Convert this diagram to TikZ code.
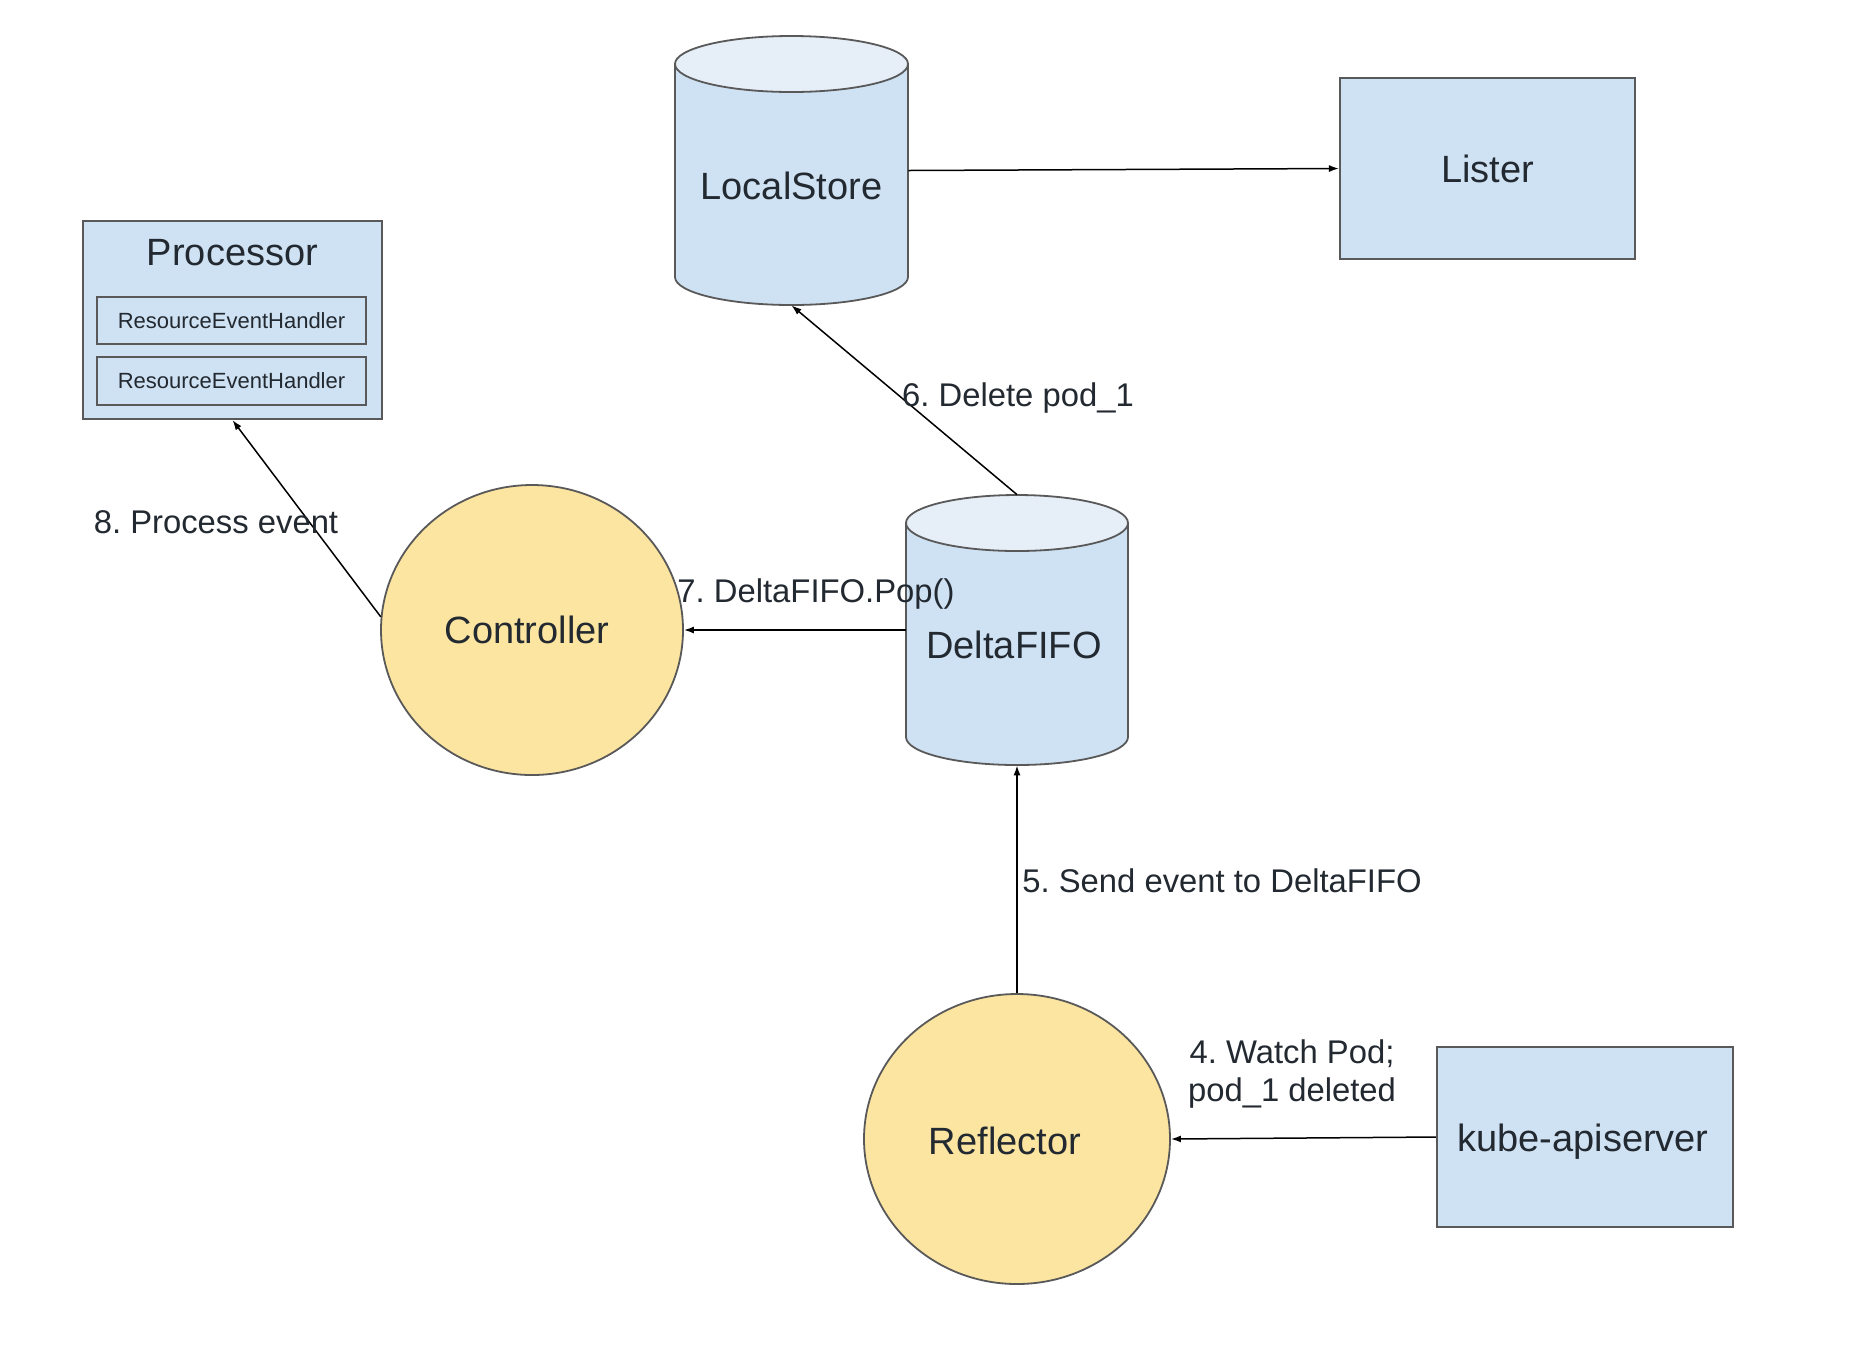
\documentclass[tikz,border=0pt]{standalone}
\usepackage{fontspec}
\setmainfont{Liberation Sans}
\usetikzlibrary{arrows.meta,shapes.geometric}
\frenchspacing

\definecolor{boxblue}{HTML}{CFE2F3}
\definecolor{capblue}{HTML}{E6EEF7}
\definecolor{discyellow}{HTML}{FCE5A1}
\definecolor{edgegray}{HTML}{595959}
\definecolor{inktext}{HTML}{232930}

\begin{document}
\begin{tikzpicture}[x=0.5pt,y=-0.5pt,
  every node/.style={text=inktext},
  mainfont/.style={font=\fontsize{19pt}{22pt}\selectfont},
  labelfont/.style={font=\fontsize{16.4pt}{19pt}\selectfont},
  smallfont/.style={font=\fontsize{11pt}{13pt}\selectfont},
  bluebox/.style={draw=edgegray, line width=1.1pt, fill=boxblue, inner sep=0pt},
  innerbox/.style={draw=edgegray, line width=1pt, fill=boxblue, inner sep=0pt,
    minimum width=134.5pt, minimum height=23.5pt, smallfont},
  disc/.style={ellipse, draw=edgegray, line width=0.9pt, fill=discyellow,
    minimum width=151pt, minimum height=145pt, inner sep=0pt},
  drumframe/.style={rectangle, inner sep=0pt, draw=none},
  drumbody/.style={draw=edgegray, line width=0.9pt, fill=boxblue},
  drumcap/.style={draw=edgegray, line width=0.9pt, fill=capblue},
  flow/.style={draw=black, line width=0.75pt, -{Latex[length=5pt,width=3.5pt]}},
  steplabel/.style={labelfont, inner sep=0pt, align=center}
]
\useasboundingbox (0,0) rectangle (1862,1362);
\fill[white] (0,0) rectangle (1862,1362);

% ---- LocalStore cylinder (x 675..908, y 36..305)
\node[drumframe, minimum width=116.5pt, minimum height=134.5pt] (localstore) at (791.5,170.5) {};
\path[drumbody] (675,64) -- (675,277)
  arc[start angle=180, end angle=360, x radius=58.25pt, y radius=14pt] -- (908,64) -- cycle;
\path[drumcap] (791.5,64) ellipse[x radius=58.25pt, y radius=14pt];
\node[mainfont] (localstore-text) at (791.5,186) {LocalStore};

% ---- DeltaFIFO cylinder (x 906..1128, y 495..765)
\node[drumframe, minimum width=111pt, minimum height=135pt] (deltafifo) at (1017,630) {};
\path[drumbody] (906,523) -- (906,737)
  arc[start angle=180, end angle=360, x radius=55.5pt, y radius=14pt] -- (1128,523) -- cycle;
\path[drumcap] (1017,523) ellipse[x radius=55.5pt, y radius=14pt];
\node[mainfont] (deltafifo-text) at (1014,645) {DeltaFIFO};

% ---- rectangles
\node[bluebox, mainfont, minimum width=147.5pt, minimum height=90.5pt] (lister) at (1487.5,168.5) {Lister};
\node[bluebox, minimum width=148pt, minimum height=90pt] (kube) at (1585,1137) {};
\node[mainfont] (kube-text) at (1583,1142) {kube-apiserver};

% ---- Processor with its two handlers
\node[bluebox, minimum width=149.5pt, minimum height=99pt] (processor) at (232.5,320) {};
\node[mainfont] (processor-title) at (232.5,253) {Processor};
\node[innerbox] (handler-a) at (231.5,320.5) {ResourceEventHandler};
\node[innerbox, minimum height=24pt] (handler-b) at (231.5,381) {ResourceEventHandler};

% ---- round actors
\node[disc] (controller) at (532,630) {};
\node[mainfont] (controller-text) at (527,630) {Controller};
\node[disc, minimum width=153pt] (reflector) at (1017,1139) {};
\node[mainfont] (reflector-text) at (1005,1141) {Reflector};

% ---- connectors
\draw[flow] (localstore.east) -- (lister.west);
\draw[flow] (deltafifo.north) -- (localstore.south);
\draw[flow] (deltafifo.west) -- (controller.east);
\draw[flow] (controller.175) -- (processor.south);
\draw[flow] (reflector.north) -- (deltafifo.south);
\draw[flow] (kube.west) -- (reflector.east);

% ---- step labels
\node[steplabel] (lbl-6) at (1018,398) {6. Delete pod\_1};
\node[steplabel] (lbl-8) at (216,522) {8. Process event};
\node[steplabel] (lbl-7) at (816,594) {7. DeltaFIFO.Pop()};
\node[steplabel] (lbl-5) at (1222,881) {5. Send event to DeltaFIFO};
\node[steplabel] (lbl-4) at (1292,1074) {4. Watch Pod;\\pod\_1 deleted};
\end{tikzpicture}
\end{document}
